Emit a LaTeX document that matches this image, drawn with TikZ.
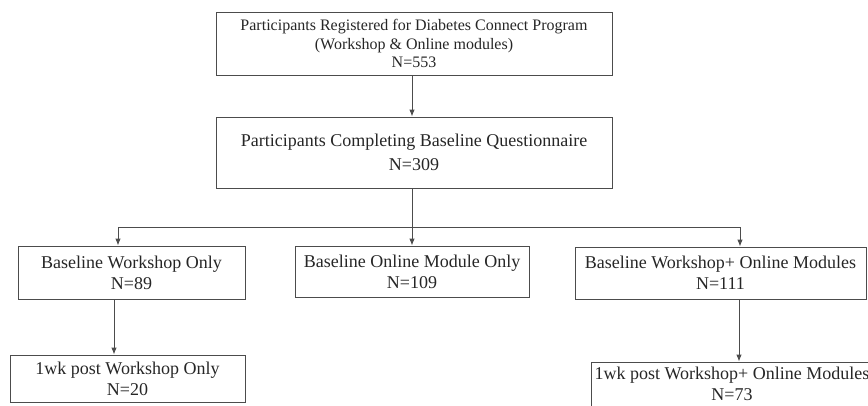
\documentclass[tikz,border=0pt]{standalone}
\usepackage{fontspec}
\setmainfont{Liberation Serif}
\usepackage{tikz}
\usetikzlibrary{arrows.meta}

\begin{document}
\begin{tikzpicture}[x=1pt,y=-1pt,>={Latex[length=7pt,width=5.5pt]},line width=0.9pt,
  box/.style={shape=rectangle,draw=black!70,align=center,inner sep=0pt,text=black!85,font=\fontsize{18}{21}\selectfont}]
\clip (0,0) rectangle (868,405);
% registration and baseline
\path (414,43.5) node (reg) [box,minimum width=396pt,minimum height=63pt,font=\fontsize{16}{18.5}\selectfont] {Participants Registered for Diabetes Connect Program\\(Workshop \& Online modules)\\N=553};
\path (414,152.5) node (base) [box,minimum width=396pt,minimum height=71pt] {Participants Completing Baseline Questionnaire\\[3pt]N=309};
% three groups
\path (131.5,272.5) node (wsonly) [box,minimum width=227pt,minimum height=53pt] {Baseline Workshop Only\\N=89};
\path (412,271.5) node (online) [box,minimum width=234pt,minimum height=51pt] {Baseline Online Module Only\\N=109};
\path (720.5,273) node (both) [box,minimum width=291pt,minimum height=52pt] {Baseline Workshop+ Online Modules\\N=111};
% follow-up
\path (127.5,378.5) node (wspost) [box,minimum width=235pt,minimum height=47pt] {1wk post Workshop Only\\N=20};
\path (732,384) node (bothpost) [box,minimum width=282pt,minimum height=44pt] {1wk post Workshop+ Online Modules\\N=73};

\coordinate (split) at (412,227);
\draw [draw=black!70,->] ([xshift=-2pt]reg.south) to ([xshift=-2pt]base.north);
\draw [draw=black!70] ([xshift=-2pt]base.south) to (split);
\draw [draw=black!70,->] (split) -| ([xshift=-13.5pt]wsonly.north);
\draw [draw=black!70,->] (split) to (online.north);
\draw [draw=black!70,->] (split) -| ([xshift=19.5pt]both.north);
\draw [draw=black!70,->] ([xshift=-17.5pt]wsonly.south) to ([xshift=-17.5pt]wsonly.south |- wspost.north);
\draw [draw=black!70,->] ([xshift=18.5pt]both.south) to ([xshift=18.5pt]both.south |- bothpost.north);
\end{tikzpicture}
\end{document}
